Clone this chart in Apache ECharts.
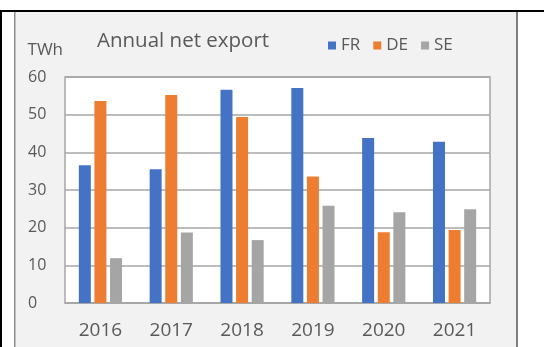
<!DOCTYPE html>
<html>
<head>
<meta charset="utf-8">
<script src="https://cdn.jsdelivr.net/npm/echarts@6/dist/echarts.min.js"></script>
<style>
  html, body { margin: 0; padding: 0; background: #fff; }
  #main { width: 544px; height: 347px; }
</style>
</head>
<body>
<div id="main"></div>
<script>
// annual net export, TWh
var years = ["2016", "2017", "2018", "2019", "2020", "2021"];
var frData = [36.6, 35.5, 56.6, 57.1, 43.8, 42.8];
var deData = [53.6, 55.2, 49.4, 33.6, 18.8, 19.4];
var seData = [11.9, 18.7, 16.7, 25.8, 24.1, 24.9];
var yTicks = [0, 10, 20, 30, 40, 50, 60];

var textGray = "#595959";
var font = "Open Sans";

var chart = echarts.init(document.getElementById("main"));

function barSerie(name, data) {
  return {
    name: name,
    type: "bar",
    data: data,
    barWidth: 12,
    barGap: "30%",
  };
}

var option = {
  animation: false,
  color: ["#4472c4", "#ed7d31", "#a5a5a5"],
  textStyle: { fontFamily: font },
  // frame + chart area background
  graphic: [
    { type: "rect", z: -10, shape: { x: 15, y: 12, width: 502, height: 335 }, style: { fill: "#f2f2f2" } },
    { type: "rect", z: -9, shape: { x: 14, y: 12, width: 1.5, height: 335 }, style: { fill: "#8c8c8c" } },
    { type: "rect", z: -9, shape: { x: 516, y: 12, width: 2, height: 335 }, style: { fill: "#7f7f7f" } },
    { type: "rect", z: -8, shape: { x: 0, y: 10, width: 544, height: 2 }, style: { fill: "#000" } },
    { type: "rect", z: -8, shape: { x: 0, y: 10, width: 2, height: 337 }, style: { fill: "#000" } },
  ],
  title: {
    text: "Annual net export",
    left: 97,
    top: 31,
    padding: 0,
    textStyle: { color: textGray, fontFamily: font, fontSize: 20.5, fontWeight: "normal" },
  },
  legend: {
    left: 328,
    top: 37,
    padding: 0,
    itemWidth: 8,
    itemHeight: 8,
    itemGap: 13,
    icon: "rect",
    data: ["FR", "DE", "SE"],
    textStyle: { color: textGray, fontFamily: font, fontSize: 17 },
  },
  grid: {
    left: 65,
    right: 54,
    top: 77,
    bottom: 44,
    show: true,
    backgroundColor: "#fff",
    borderColor: "#a6a6a6",
    borderWidth: 1.5,
  },
  xAxis: {
    type: "category",
    data: years,
    axisLine: { show: true, lineStyle: { color: "#a6a6a6", width: 1.5 } },
    axisTick: { show: false },
    axisLabel: { color: textGray, fontFamily: font, fontSize: 19, margin: 18 },
  },
  yAxis: {
    type: "value",
    min: yTicks[0],
    max: yTicks[yTicks.length - 1],
    interval: 10,
    name: "TWh",
    nameLocation: "end",
    nameGap: 27,
    nameTextStyle: { color: textGray, fontFamily: font, fontSize: 17, align: "right", verticalAlign: "middle", padding: [0, 2, 0, 0] },
    axisLine: { show: false },
    axisTick: { show: false },
    splitLine: { show: true, lineStyle: { color: "#a6a6a6", width: 1.5 } },
    axisLabel: { color: textGray, fontFamily: font, fontSize: 16, align: "left", margin: 37 },
  },
  series: [barSerie("FR", frData), barSerie("DE", deData), barSerie("SE", seData)],
};
chart.setOption(option);
</script>
</body>
</html>
